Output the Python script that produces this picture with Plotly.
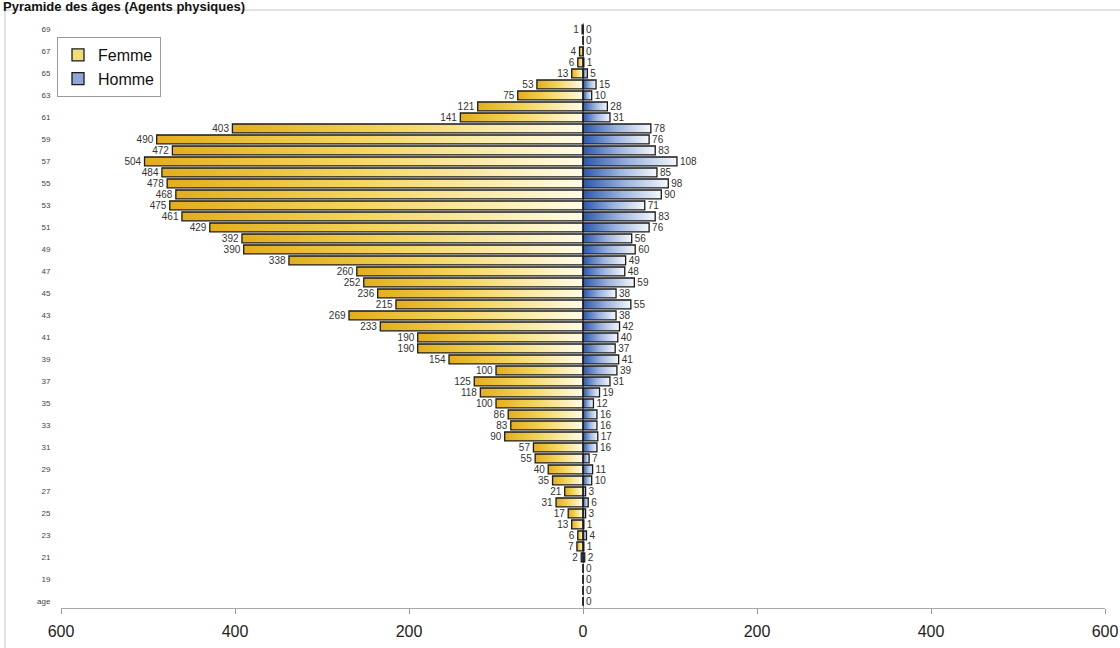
import plotly.graph_objects as go

# ---------------- data ----------------
age_labels = ["age"] + [str(a) for a in range(18, 70)]
femme = [0, 0, 0, 0, 2, 7, 6, 13, 17, 31, 21, 35, 40, 55, 57, 90, 83, 86, 100, 118,
         125, 100, 154, 190, 190, 233, 269, 215, 236, 252, 260, 338, 390, 392, 429,
         461, 475, 468, 478, 484, 504, 472, 490, 403, 141, 121, 75, 53, 13, 6, 4, 0, 1]
homme = [0, 0, 0, 0, 2, 1, 4, 1, 3, 6, 3, 10, 11, 7, 16, 17, 16, 16, 12, 19,
         31, 39, 41, 37, 40, 42, 38, 55, 38, 59, 48, 49, 60, 56, 76,
         83, 71, 90, 98, 85, 108, 83, 76, 78, 31, 28, 10, 15, 5, 1, 0, 0, 0]
x_ticks = [-600, -400, -200, 0, 200, 400, 600]
title_text = "Pyramide des âges (Agents physiques)"

idx = list(range(len(age_labels)))
BW = 0.8
XR = [-600, 600]
YR = [-0.6, 52.58]

fig = go.Figure()

# gradient fills (underneath), one per bar so each bar gets its own gradient
for i, v in zip(idx, femme):
    if v > 0:
        fig.add_trace(go.Scatter(
            x=[0, -v, -v, 0, 0], y=[i - BW / 2, i - BW / 2, i + BW / 2, i + BW / 2, i - BW / 2],
            mode="lines", line=dict(width=0), fill="toself",
            fillgradient=dict(type="horizontal", start=-v, stop=0,
                              colorscale=[[0, "#E3AE1C"], [0.45, "#F4D55C"], [1, "#FFFCE6"]]),
            showlegend=False, hoverinfo="skip"))
for i, v in zip(idx, homme):
    if v > 0:
        fig.add_trace(go.Scatter(
            x=[0, v, v, 0, 0], y=[i - BW / 2, i - BW / 2, i + BW / 2, i + BW / 2, i - BW / 2],
            mode="lines", line=dict(width=0), fill="toself",
            fillgradient=dict(type="horizontal", start=0, stop=v,
                              colorscale=[[0, "#2A57AC"], [0.5, "#9DB4DD"], [1, "#F5F8FD"]]),
            showlegend=False, hoverinfo="skip"))

# bars (outline + labels) on an overlaying subplot, drawn above the fills
f_colors = ["#F2DC7A"] + ["rgba(0,0,0,0)"] * (len(idx) - 1)
h_colors = ["#8EA6D8"] + ["rgba(0,0,0,0)"] * (len(idx) - 1)
fig.add_trace(go.Bar(
    name="Femme", orientation="h", y=idx, x=[-v for v in femme], width=BW,
    marker=dict(color=f_colors, line=dict(color="#1a1a1a", width=1.3)),
    text=[str(v) if v > 0 else "" for v in femme], textposition="outside",
    textfont=dict(size=10, color="#333"), constraintext="none", cliponaxis=False,
    xaxis="x2", yaxis="y2"))
fig.add_trace(go.Bar(
    name="Homme", orientation="h", y=idx, x=homme, width=BW,
    marker=dict(color=h_colors, line=dict(color="#1a1a1a", width=1.3)),
    text=[str(v) for v in homme], textposition="outside",
    textfont=dict(size=10, color="#333"), constraintext="none", cliponaxis=False,
    xaxis="x2", yaxis="y2"))

L, R, T, B = 61, 15, 23, 40
W, H = 1120, 648
pw, ph = W - L - R, H - T - B

fig.update_layout(
    width=W, height=H,
    margin=dict(l=L, r=R, t=T, b=B, autoexpand=False),
    paper_bgcolor="white", plot_bgcolor="white",
    font=dict(family="Liberation Sans, Arial, sans-serif", color="#222"),
    barmode="overlay",
    xaxis=dict(range=XR, tickvals=x_ticks, ticktext=[str(abs(t)) for t in x_ticks],
               ticks="outside", ticklen=5, tickcolor="#999", showline=True, linecolor="#aaa",
               showgrid=False, zeroline=True, zerolinecolor="#999", zerolinewidth=1,
               tickfont=dict(size=16, color="#222"), ticklabelstandoff=4, automargin=False),
    yaxis=dict(range=YR, tickvals=idx[::2], ticktext=age_labels[::2],
               ticks="outside", ticklen=8, tickcolor="rgba(0,0,0,0)",
               showgrid=False, zeroline=False, showline=False, automargin=False,
               tickfont=dict(size=8, color="#444")),
    xaxis2=dict(overlaying="x", anchor="y2", range=XR, visible=False),
    yaxis2=dict(overlaying="y", anchor="x2", range=YR, visible=False),
    legend=dict(x=(57 - L) / pw, y=1 - (37 - T) / ph, xanchor="left", yanchor="top",
                bgcolor="white", bordercolor="#999", borderwidth=1,
                font=dict(size=16, color="#111"), tracegroupgap=0),
    shapes=[dict(type="rect", xref="paper", yref="paper",
                 x0=(5 - L) / pw, x1=(W + 20 - L) / pw,
                 y0=-(B + 20) / ph, y1=1 + (T - 10) / ph,
                 line=dict(color="#c8c8c8", width=1), fillcolor="rgba(0,0,0,0)", layer="below")],
    annotations=[dict(text="<b>" + title_text + "</b>", xref="paper", yref="paper",
                      x=(1 - L) / pw, y=1 + (T - 6) / ph, xanchor="left", yanchor="middle",
                      showarrow=False, font=dict(size=13, color="#111"))],
)

fig.write_html("out.html")
